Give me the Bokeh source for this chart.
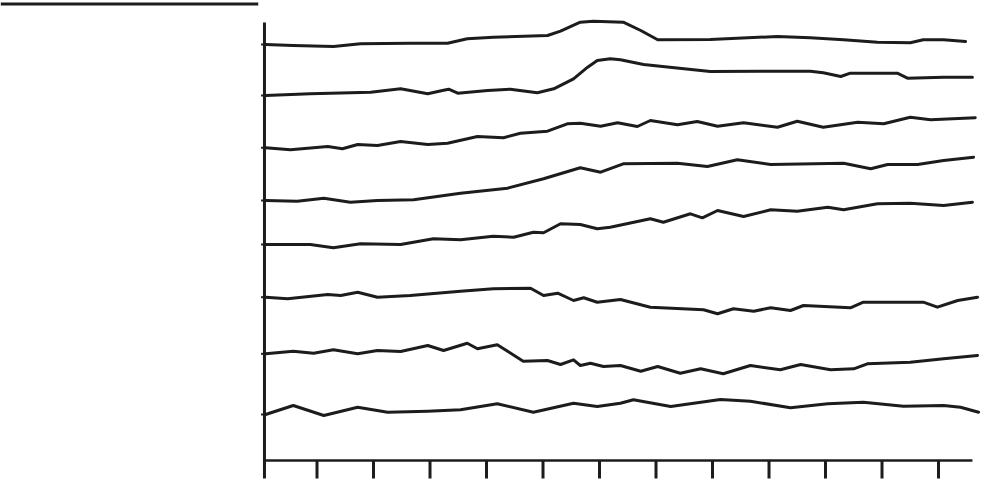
from bokeh.plotting import figure
from bokeh.models import Range1d
from bokeh.embed import file_html
from bokeh.resources import INLINE

# time axis ticks (arbitrary units) and the eight recorded traces
ticks = [1, 2, 3, 4, 5, 6, 7, 8, 9, 10, 11, 12]

t1_x = [0.09, 0.58, 1.29, 1.77, 2.65, 3.31, 3.66, 4.12, 5.08, 5.31, 5.66, 5.89, 6.42, 6.73, 7.03, 7.96, 9.15, 9.73, 10.32, 10.92, 11.50, 11.73, 12.09, 12.48]
t1_y = [41.6, 41.5, 41.4, 41.67, 41.73, 41.73, 42.17, 42.33, 42.5, 42.93, 43.83, 43.93, 43.83, 43.0, 42.07, 42.1, 42.4, 42.27, 42.07, 41.83, 41.77, 42.07, 42.07, 41.9]

t2_x = [0.09, 0.88, 1.95, 2.48, 2.96, 3.22, 3.33, 3.49, 4.02, 4.42, 4.90, 5.19, 5.54, 5.79, 5.96, 6.19, 6.37, 6.78, 7.96, 8.85, 9.73, 9.96, 10.27, 10.44, 11.27, 11.45, 12.09, 12.60]
t2_y = [36.5, 36.67, 36.83, 37.17, 36.67, 37.0, 37.13, 36.73, 37.0, 37.13, 36.77, 37.17, 38.17, 39.33, 40.0, 40.17, 40.07, 39.6, 38.9, 38.93, 38.93, 38.77, 38.4, 38.73, 38.73, 38.23, 38.33, 38.33]

t3_x = [0.09, 0.53, 1.19, 1.45, 1.72, 2.07, 2.48, 2.96, 3.31, 3.84, 4.30, 4.60, 5.08, 5.43, 5.66, 6.02, 6.32, 6.67, 6.90, 7.38, 7.73, 8.09, 8.55, 9.15, 9.50, 9.96, 10.57, 11.03, 11.50, 11.86, 12.65]
t3_y = [31.27, 31.07, 31.4, 31.17, 31.6, 31.5, 31.9, 31.6, 31.73, 32.4, 32.27, 32.73, 32.93, 33.67, 33.73, 33.43, 33.77, 33.4, 34.0, 33.57, 33.9, 33.43, 33.77, 33.33, 33.93, 33.33, 33.83, 33.67, 34.33, 34.07, 34.27]

t4_x = [0.09, 0.65, 1.12, 1.59, 2.07, 2.71, 3.54, 4.37, 5.01, 5.66, 6.02, 6.42, 7.38, 7.91, 8.44, 9.03, 10.32, 10.80, 11.10, 11.63, 12.09, 12.62]
t4_y = [26.0, 25.93, 26.23, 25.83, 26.0, 26.07, 26.73, 27.23, 28.17, 29.27, 28.83, 29.67, 29.73, 29.4, 30.07, 29.6, 29.73, 29.17, 29.6, 29.6, 30.0, 30.33]

t5_x = [0.09, 0.88, 1.29, 1.77, 2.48, 3.06, 3.54, 4.12, 4.48, 4.83, 5.01, 5.31, 5.66, 5.96, 6.19, 6.90, 7.13, 7.61, 7.82, 8.09, 8.55, 9.03, 9.50, 10.04, 10.32, 10.92, 11.50, 12.09, 12.60]
t5_y = [21.6, 21.6, 21.27, 21.67, 21.6, 22.17, 22.07, 22.43, 22.33, 22.83, 22.77, 23.67, 23.6, 23.17, 23.33, 24.17, 23.83, 24.67, 24.27, 25.0, 24.4, 25.07, 24.93, 25.33, 25.07, 25.67, 25.73, 25.5, 25.83]

t6_x = [0.09, 0.48, 1.19, 1.42, 1.72, 2.07, 2.65, 3.54, 4.12, 4.78, 5.01, 5.26, 5.54, 5.72, 5.96, 6.37, 6.90, 7.84, 8.09, 8.37, 8.73, 9.03, 9.38, 9.61, 10.44, 10.67, 11.73, 11.98, 12.34, 12.69]
t6_y = [16.33, 16.17, 16.6, 16.5, 16.83, 16.33, 16.5, 16.93, 17.17, 17.23, 16.5, 16.73, 16.0, 16.27, 15.83, 16.1, 15.33, 15.07, 14.67, 15.17, 14.93, 15.27, 15.0, 15.5, 15.27, 15.83, 15.83, 15.33, 16.0, 16.33]

t7_x = [0.09, 0.58, 0.94, 1.29, 1.72, 2.07, 2.48, 2.96, 3.24, 3.66, 3.84, 4.19, 4.65, 5.08, 5.31, 5.54, 5.66, 5.84, 6.07, 6.37, 6.73, 7.03, 7.43, 7.79, 8.19, 8.67, 9.20, 9.56, 10.09, 10.50, 10.74, 11.50, 12.09, 12.69]
t7_y = [10.67, 10.93, 10.73, 11.07, 10.67, 11.0, 10.9, 11.5, 11.0, 11.73, 11.17, 11.57, 9.93, 10.0, 9.6, 10.07, 9.5, 9.73, 9.4, 9.5, 8.93, 9.4, 8.73, 9.17, 8.67, 9.5, 9.07, 9.6, 9.07, 9.17, 9.67, 9.83, 10.17, 10.5]

t8_x = [0.09, 0.58, 1.12, 1.72, 2.25, 2.96, 3.54, 4.19, 4.83, 5.54, 5.96, 6.37, 6.60, 7.26, 8.14, 8.67, 9.38, 10.04, 10.67, 11.38, 12.09, 12.39, 12.71]
t8_y = [4.6, 5.5, 4.5, 5.33, 4.83, 4.93, 5.07, 5.67, 4.83, 5.73, 5.4, 5.73, 6.07, 5.4, 6.1, 5.93, 5.27, 5.67, 5.83, 5.43, 5.5, 5.33, 4.83]

traces = [(t1_x, t1_y), (t2_x, t2_y), (t3_x, t3_y), (t4_x, t4_y),
          (t5_x, t5_y), (t6_x, t6_y), (t7_x, t7_y), (t8_x, t8_y)]

INK = "#1c1c1c"

p = figure(width=984, height=483, output_backend="svg", toolbar_location=None,
           x_axis_type=None, y_axis_type=None,
           x_range=Range1d(-4.602, 12.814), y_range=Range1d(-2.3, 46.0),
           min_border=0, min_border_left=0, min_border_right=0,
           min_border_top=0, min_border_bottom=0)
p.outline_line_color = None
p.grid.visible = False
p.background_fill_color = "white"
p.border_fill_color = "white"

x0 = 0.07      # position of the vertical spine
x_end = 12.6   # end of the time axis

# spines
p.segment(x0=[x0], y0=[-1.8], x1=[x0], y1=[43.8], line_color=INK, line_width=3)
p.segment(x0=[x0], y0=[0], x1=[x_end], y1=[0], line_color=INK, line_width=2.5)
p.segment(x0=ticks, y0=[0] * len(ticks), x1=ticks, y1=[-1.8] * len(ticks),
          line_color=INK, line_width=3)

# small marks on the spine at each trace start
starts = [ty[0] for _, ty in traces]
p.segment(x0=[x0 - 0.06] * len(starts), y0=starts, x1=[x0] * len(starts), y1=starts,
          line_color=INK, line_width=2)

# separator line at upper left
p.segment(x0=[-4.6], y0=[45.65], x1=[-0.04], y1=[45.65], line_color=INK, line_width=3)

for tx, ty in traces:
    p.line(tx, ty, line_color=INK, line_width=3, line_join="round", line_cap="round")

open("out.html", "w").write(file_html(p, INLINE))
